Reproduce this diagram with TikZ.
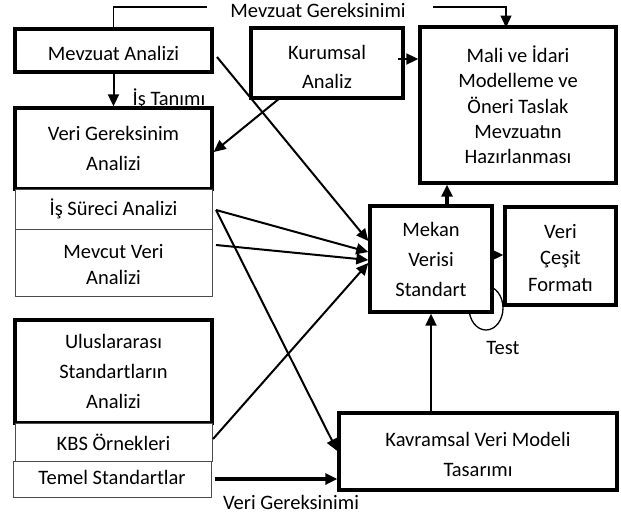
\documentclass[tikz,border=0pt]{standalone}
\usepackage{fontspec}
\setmainfont{Carlito}
\usetikzlibrary{arrows.meta}
\begin{document}
\begin{tikzpicture}[x=1pt,y=-1pt,
  txt/.style={font=\fontsize{20.5}{30}\selectfont},
  box/.style={draw,line width=3.4pt,fill=white,align=center,inner sep=0pt,txt},
  thinbox/.style={draw=black!70,line width=0.9pt,fill=white,align=center,inner sep=0pt,txt},
  intext/.style={align=center,inner sep=0pt,txt},
  tip/.style={-{Triangle[length=12pt,width=11pt]}},
  conn/.style={line width=2pt,tip},
  heavy/.style={line width=3.8pt,tip},
  lab/.style={inner sep=0pt,txt}]
\useasboundingbox (0,0) rectangle (621,514);
% test loop (drawn first, partly hidden by boxes)
\draw[line width=1.3pt] (486,308) ellipse [x radius=17, y radius=22];
% boxes
\node[box,minimum width=197pt,minimum height=43pt] (mevA) at (113.5,50.5) {};
\node[intext] (mevAT) at ([yshift=-2.5pt]mevA.center) {Mevzuat Analizi};
\node[box,minimum width=152pt,minimum height=70pt] (kur) at (327,63) {};
\node[intext,font=\fontsize{20.5}{29}\selectfont] (kurT) at ([yshift=-4pt]kur.center) {Kurumsal\\Analiz};
\node[box,minimum width=196pt,minimum height=156pt,font=\fontsize{20.5}{25.3}\selectfont] (mali) at (518,105) {Mali ve İdari\\Modelleme ve\\Öneri Taslak\\Mevzuatın\\Hazırlanması};
\node[box,minimum width=197pt,minimum height=81pt] (vga) at (113.5,148.5) {Veri Gereksinim\\Analizi};
\node[thinbox,minimum width=197pt,minimum height=40pt] (iss) at (113.5,209) {İş Süreci Analizi};
\node[thinbox,minimum width=197pt,minimum height=67pt] (mev) at (113.5,262.5) {};
\node[intext,font=\fontsize{20.5}{26.5}\selectfont] (mevT) at ([yshift=-2pt]mev.center) {Mevcut Veri\\Analizi};
\node[box,minimum width=197pt,minimum height=103pt] (ulu) at (113.5,371.5) {Uluslararası\\Standartların\\Analizi};
\node[thinbox,minimum width=197pt,minimum height=38pt] (kbs) at (113.5,442) {KBS Örnekleri};
\node[thinbox,minimum width=198pt,minimum height=36pt] (tem) at (112,479) {};
\node[intext] (temT) at ([yshift=1.5pt]tem.center) {Temel Standartlar};
\node[box,minimum width=122pt,minimum height=106pt] (mek) at (431,259) {Mekan\\Verisi\\Standart};
\node[box,minimum width=111pt,minimum height=98pt] (vcf) at (560.5,256) {};
\node[intext,font=\fontsize{20.5}{26.5}\selectfont] (vcfT) at ([yshift=-2pt]vcf.center) {Veri\\Çeşit\\Formatı};
\node[box,minimum width=278pt,minimum height=77pt] (kav) at (478,451.5) {};
\node[intext] (kavT) at ([yshift=-3pt]kav.center) {Kavramsal Veri Modeli\\Tasarımı};
% labels
\node[lab] (lmg) at (318,10) {Mevzuat Gereksinimi};
\node[lab] (lit) at (169,99) {İş Tanımı};
\node[lab] (ltest) at (503,348) {Test};
\node[lab] (lvg) at (291,502) {Veri Gereksinimi};
% helper coordinates
\coordinate (mgL) at (207,7);
\coordinate (mgR) at (433,7);
\coordinate (issO) at (216,210);
\coordinate (mevO) at (216,245);
\coordinate (mevAO) at (217,57);
\coordinate (kbsO) at (213,439);
\coordinate (kurO) at (280,98);
% connectors
\draw[line width=1.3pt] (mevA.north) |- (mgL);
\draw[line width=1.3pt,tip] (mgR) -| (506,27.5);
\draw[conn] (mevA.south) -- (vga.north);
\draw[conn] (kurO) -- (vga.east |- 0,152);
\draw[conn] (398,59) -- (mali.west |- 0,59);
\draw[heavy] (mek.north -| 447,0) -- (mali.south -| 447,0);
\draw[conn] (mek.east |- 0,255) -- (vcf.west |- 0,255);
\draw[conn] (kav.north -| 431,0) -- (mek.south -| 431,0);
\draw[conn] (mevAO) -- (mek.west |- 0,241);
\draw[conn] (issO) -- (mek.west |- 0,252);
\draw[conn] (mevO) -- (mek.west |- 0,260);
\draw[conn] (kbsO) -- (mek.west |- 0,263);
\draw[conn] (issO) -- (kav.west |- 0,451);
\draw[heavy] (215,479) -- (kav.west |- 0,479);
\end{tikzpicture}
\end{document}
